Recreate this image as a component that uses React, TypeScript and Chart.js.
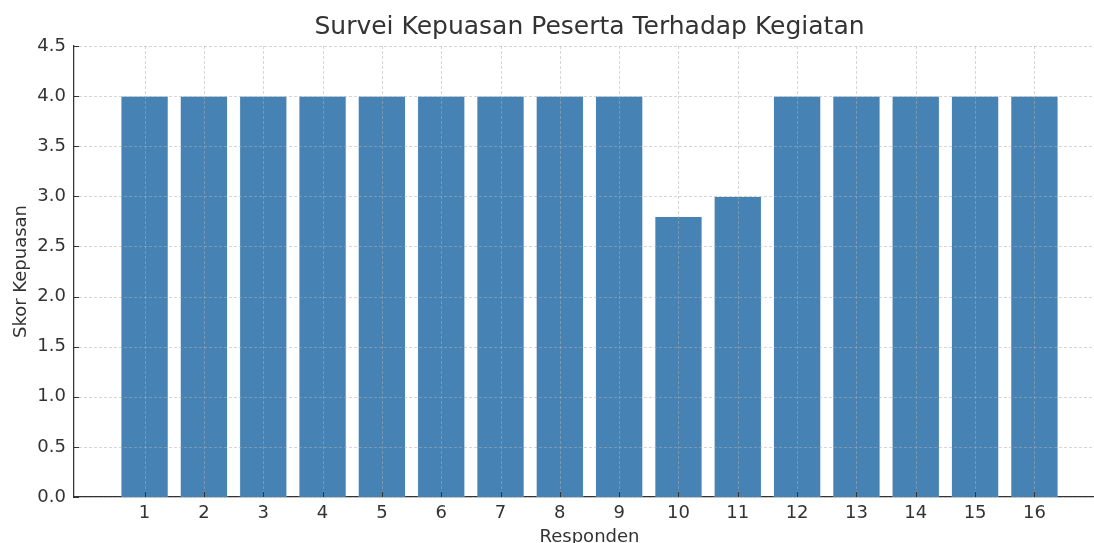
import React, { useEffect, useRef } from "react";
import { Chart, registerables } from "chart.js";

Chart.register(...registerables);

const categories: number[] = [1, 2, 3, 4, 5, 6, 7, 8, 9, 10, 11, 12, 13, 14, 15, 16];
const scores: number[] = [4, 4, 4, 4, 4, 4, 4, 4, 4, 2.8, 3, 4, 4, 4, 4, 4];
const yTicks: number[] = [0, 0.5, 1, 1.5, 2, 2.5, 3, 3.5, 4, 4.5];

const titleText = "Survei Kepuasan Peserta Terhadap Kegiatan";
const xTitle = "Responden";
const yTitle = "Skor Kepuasan";

const FONT = "'DejaVu Sans', 'Liberation Sans', sans-serif";
const TEXT = "#333333";

const overlayPlugin = {
  id: "overlayGridTicks",
  afterDatasetsDraw(chart: any) {
    const { ctx, chartArea } = chart;
    const xs = chart.scales.x;
    const ys = chart.scales.y;
    ctx.save();
    ctx.strokeStyle = "rgba(176,176,176,0.65)";
    ctx.lineWidth = 0.8;
    ctx.setLineDash([3, 2]);
    for (const c of categories) {
      const px = Math.round(xs.getPixelForValue(c)) + 0.5;
      ctx.beginPath();
      ctx.moveTo(px, chartArea.top);
      ctx.lineTo(px, chartArea.bottom);
      ctx.stroke();
    }
    for (const t of yTicks) {
      const py = Math.round(ys.getPixelForValue(t)) + 0.5;
      ctx.beginPath();
      ctx.moveTo(chartArea.left, py);
      ctx.lineTo(chartArea.right, py);
      ctx.stroke();
    }
    ctx.setLineDash([]);
    ctx.strokeStyle = TEXT;
    ctx.lineWidth = 1;
    for (const c of categories) {
      const px = Math.round(xs.getPixelForValue(c)) + 0.5;
      ctx.beginPath();
      ctx.moveTo(px, chartArea.bottom);
      ctx.lineTo(px, chartArea.bottom - 5);
      ctx.stroke();
    }
    for (const t of yTicks) {
      const py = Math.round(ys.getPixelForValue(t)) + 0.5;
      ctx.beginPath();
      ctx.moveTo(chartArea.left, py);
      ctx.lineTo(chartArea.left + 5, py);
      ctx.stroke();
    }
    ctx.restore();
  },
};

export default function App() {
  const ref = useRef<HTMLCanvasElement | null>(null);

  useEffect(() => {
    if (!ref.current) return;
    const chart = new Chart(ref.current, {
      type: "bar",
      data: {
        datasets: [
          {
            data: categories.map((c, i) => ({ x: c, y: scores[i] })),
            backgroundColor: "#4682B4",
            borderColor: "rgba(200,220,235,0.6)",
            borderWidth: 0.6,
            barPercentage: 0.8,
            categoryPercentage: 1.0,
          },
        ],
      },
      options: {
        animation: false,
        responsive: false,
        maintainAspectRatio: false,
        layout: { padding: 0 },
        plugins: {
          legend: { display: false },
          tooltip: { enabled: false },
          title: {
            display: true,
            text: titleText,
            fullSize: false,
            color: TEXT,
            font: { family: FONT, size: 25, weight: "normal" },
            padding: { top: 12, bottom: 4 },
          },
        },
        scales: {
          x: {
            type: "linear",
            offset: false,
            min: -0.19,
            max: 17.19,
            afterBuildTicks: (scale: any) => {
              scale.ticks = categories.map((v) => ({ value: v }));
            },
            afterFit: (scale: any) => {
              scale.height = 56;
            },
            grid: { display: false, drawTicks: false, offset: false },
            border: { display: true, color: TEXT, width: 1.25 },
            ticks: {
              color: TEXT,
              font: { family: FONT, size: 18 },
              padding: 6,
              maxRotation: 0,
              autoSkip: false,
              callback: (v: any) => String(v),
            },
            title: {
              display: true,
              text: xTitle,
              color: TEXT,
              font: { family: FONT, size: 18 },
              padding: { top: 0, bottom: 5 },
            },
          },
          y: {
            type: "linear",
            min: 0,
            max: 4.5,
            afterBuildTicks: (scale: any) => {
              scale.ticks = yTicks.map((v) => ({ value: v }));
            },
            afterFit: (scale: any) => {
              scale.width = 74;
            },
            grid: { display: false, drawTicks: false },
            border: { display: true, color: TEXT, width: 1.25 },
            ticks: {
              color: TEXT,
              font: { family: FONT, size: 18 },
              padding: 8,
              callback: (v: any) => Number(v).toFixed(1),
            },
            title: {
              display: true,
              text: yTitle,
              color: TEXT,
              font: { family: FONT, size: 18 },
              padding: { top: 11, bottom: 0 },
            },
          },
        },
      },
      plugins: [overlayPlugin],
    } as any);
    return () => chart.destroy();
  }, []);

  return (
    <div
      style={{
        position: "fixed",
        left: 0,
        top: 0,
        width: 1094,
        height: 543,
        overflow: "hidden",
        background: "#ffffff",
      }}
    >
      <canvas ref={ref} width={1105} height={553} style={{ width: 1105, height: 553, display: "block" }} />
    </div>
  );
}
